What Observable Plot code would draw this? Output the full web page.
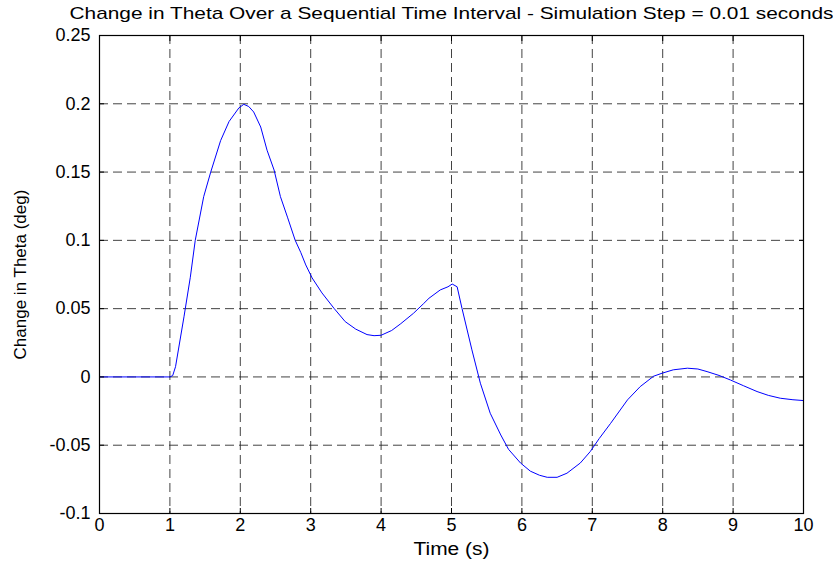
<!DOCTYPE html>
<html>
<head>
<meta charset="utf-8">
<script src="https://cdn.jsdelivr.net/npm/d3@7"></script>
<script src="https://cdn.jsdelivr.net/npm/@observablehq/plot@0.6"></script>
<style>
  html, body { margin: 0; padding: 0; background: #fff; }
  #chart svg { display: block; }
</style>
</head>
<body>
<div id="chart"></div>
<script>
const titleText = "Change in Theta Over a Sequential Time Interval - Simulation Step = 0.01 seconds";
const xLabelText = "Time (s)";
const yLabelText = "Change in Theta (deg)";

const xTicks = [0, 1, 2, 3, 4, 5, 6, 7, 8, 9, 10];
const xTickLabels = ["0", "1", "2", "3", "4", "5", "6", "7", "8", "9", "10"];
const yTicks = [-0.1, -0.05, 0, 0.05, 0.1, 0.15, 0.2, 0.25];
const yTickLabels = ["-0.1", "-0.05", "0", "0.05", "0.1", "0.15", "0.2", "0.25"];

const time = [0, 0.5, 1.0, 1.04, 1.08, 1.2, 1.29, 1.36, 1.48, 1.58, 1.72, 1.84, 1.98, 2.05, 2.12, 2.19, 2.29, 2.38, 2.48, 2.57, 2.67, 2.78, 2.86, 2.93, 3.02, 3.16, 3.33, 3.49, 3.64, 3.8, 3.9, 4.0, 4.15, 4.28, 4.46, 4.6, 4.68, 4.84, 4.95, 5.01, 5.08, 5.15, 5.29, 5.41, 5.55, 5.7, 5.81, 5.98, 6.12, 6.25, 6.36, 6.5, 6.64, 6.83, 6.97, 7.1, 7.26, 7.5, 7.68, 7.87, 7.99, 8.15, 8.35, 8.5, 8.63, 8.8, 8.96, 9.15, 9.34, 9.5, 9.67, 9.85, 10];
const theta = [0, 0, 0, 0.001, 0.0075, 0.044, 0.073, 0.100, 0.132, 0.150, 0.173, 0.187, 0.197, 0.1996, 0.198, 0.194, 0.183, 0.166, 0.1515, 0.132, 0.117, 0.100, 0.091, 0.082, 0.0725, 0.0615, 0.0503, 0.0405, 0.035, 0.031, 0.0302, 0.0305, 0.034, 0.039, 0.0466, 0.0535, 0.0576, 0.0637, 0.066, 0.068, 0.066, 0.050, 0.0198, -0.0046, -0.0266, -0.0425, -0.053, -0.063, -0.069, -0.072, -0.0735, -0.0735, -0.0705, -0.063, -0.0547, -0.045, -0.034, -0.0168, -0.0071, 0.0005, 0.0027, 0.0052, 0.0064, 0.0058, 0.0039, 0.0011, -0.0022, -0.0065, -0.0107, -0.0135, -0.0156, -0.0167, -0.0173];

const data = time.map((t, i) => ({t, v: theta[i]}));
const font = "Liberation Sans, Arial, Helvetica, sans-serif";
const fs = 18;

const chart = Plot.plot({
  width: 833,
  height: 569,
  marginLeft: 99,
  marginRight: 30,
  marginTop: 35,
  marginBottom: 56,
  style: {fontFamily: font, fontSize: fs + "px", color: "#000", background: "#fff"},
  x: {domain: [0, 10], label: null},
  y: {domain: [-0.1, 0.25], label: null},
  marks: [
    Plot.gridX(xTicks, {stroke: "#222", strokeOpacity: 0.85, strokeWidth: 1, strokeDasharray: "9,5"}),
    Plot.gridY(yTicks, {stroke: "#222", strokeOpacity: 0.85, strokeWidth: 1, strokeDasharray: "9,5"}),
    Plot.line(data, {x: "t", y: "v", stroke: "#0000ff", strokeWidth: 1}),
    // inward tick marks on all four sides
    Plot.axisX(xTicks, {anchor: "bottom", tickSize: 5, dy: -5, tickFormat: () => "", label: null, stroke: "#000"}),
    Plot.axisX(xTicks, {anchor: "top", tickSize: 5, dy: 5, tickFormat: () => "", label: null, stroke: "#000"}),
    Plot.axisY(yTicks, {anchor: "left", tickSize: 5, dx: 5, tickFormat: () => "", label: null, stroke: "#000"}),
    Plot.axisY(yTicks, {anchor: "right", tickSize: 5, dx: -5, tickFormat: () => "", label: null, stroke: "#000"}),
    // tick labels
    Plot.axisX(xTicks, {anchor: "bottom", tickSize: 0, tickPadding: 5, tickFormat: (d) => xTickLabels[xTicks.indexOf(d)], label: null, fontSize: fs, fill: "#000"}),
    Plot.axisY(yTicks, {anchor: "left", tickSize: 0, tickPadding: 9, tickFormat: (d) => yTickLabels[yTicks.findIndex(y => Math.abs(y - d) < 1e-9)], label: null, fontSize: fs, fill: "#000"}),
    Plot.frame({stroke: "#000", strokeWidth: 1.2}),
    // titles
    Plot.text([titleText], {frameAnchor: "top", dy: -22, lineAnchor: "middle", fontSize: 17, fill: "#000", className: "ttl"}),
    Plot.text([xLabelText], {frameAnchor: "bottom", dy: 41, fontSize: fs, fill: "#000", className: "xlab"}),
    Plot.text([yLabelText], {frameAnchor: "left", dx: -79, rotate: -90, textAnchor: "middle", fontSize: 17, fill: "#000"})
  ]
});
document.getElementById("chart").appendChild(chart);

// widen the title and x label slightly to match the reference's horizontal text proportions
function stretch(cls, len) {
  chart.querySelectorAll("g." + cls + " text, ." + cls + " text").forEach(t => {
    t.setAttribute("textLength", len);
    t.setAttribute("lengthAdjust", "spacingAndGlyphs");
  });
}
stretch("ttl", 764);
stretch("xlab", 76);
</script>
</body>
</html>
